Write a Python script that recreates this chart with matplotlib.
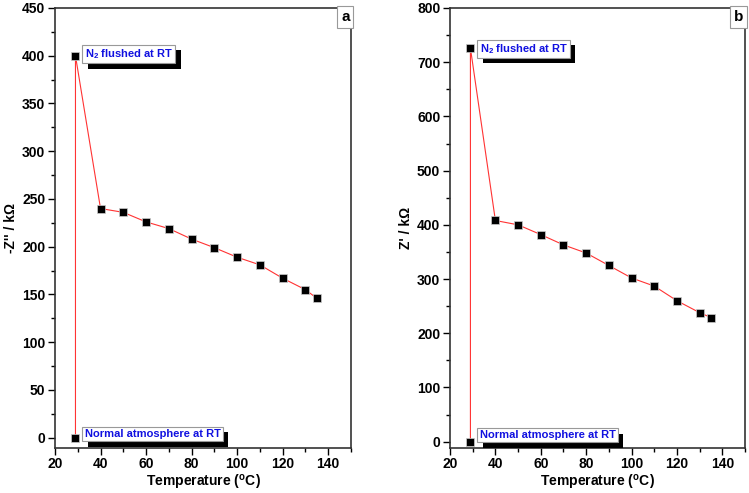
import matplotlib
matplotlib.use("Agg")
import matplotlib.pyplot as plt
from matplotlib.ticker import MultipleLocator
import matplotlib.patheffects as pe

plt.rcParams['font.family'] = ['Liberation Sans', 'DejaVu Sans']
plt.rcParams['font.weight'] = 'bold'
plt.rcParams['mathtext.fontset'] = 'custom'
plt.rcParams['mathtext.bf'] = 'Liberation Sans:bold'
plt.rcParams['mathtext.rm'] = 'Liberation Sans:bold'
plt.rcParams['mathtext.default'] = 'bf'

temp = [29, 29, 40, 50, 60, 70, 80, 90, 100, 110, 120, 130, 135]
z_imag = [0, 400, 240, 236, 226, 219, 208, 199, 189, 181, 167, 155, 146]
z_real = [0, 726, 408, 400, 382, 363, 348, 325, 302, 287, 260, 238, 229]


def shadow_box(ax, x, y, s):
    t = ax.text(x, y, s, color='#1010e0', fontsize=8, fontweight='bold', ha='left', va='center',
                bbox=dict(boxstyle='square,pad=0.2', fc='white', ec='#999999', lw=0.8), zorder=5)
    t.get_bbox_patch().set_path_effects([
        pe.SimplePatchShadow(offset=(4, -4), shadow_rgbFace='black', alpha=1.0),
        pe.Normal()])
    return t


def draw_panel(ax, y, ylim, major, ylabel, letter, n2_y, norm_y):
    ax.plot(temp, y, color='#ff3333', lw=0.8, zorder=2)
    ax.plot(temp, y, ls='none', marker='s', ms=6, mfc='black', mec='#cccccc', mew=0.5, zorder=3)
    ax.set_xlim(20, 150)
    ax.set_ylim(*ylim)
    ax.xaxis.set_major_locator(MultipleLocator(20))
    ax.xaxis.set_minor_locator(MultipleLocator(10))
    ax.yaxis.set_major_locator(MultipleLocator(major))
    ax.yaxis.set_minor_locator(MultipleLocator(major / 2))
    ax.tick_params(which='major', direction='out', length=5, width=1, labelsize=10, pad=2)
    ax.tick_params(which='minor', direction='out', length=3, width=1)
    for lab in ax.get_xticklabels() + ax.get_yticklabels():
        lab.set_fontweight('bold')
    for sp in ax.spines.values():
        sp.set_linewidth(1.2)
        sp.set_color('#333333')
    ax.set_xlabel('Temperature ($^\\mathregular{o}$C)', fontsize=10, fontweight='bold', labelpad=1)
    ax.set_ylabel(ylabel, fontsize=10, fontweight='bold', labelpad=3)
    ax.text(0.995, 0.995, letter, transform=ax.transAxes, ha='right', va='top', fontsize=11,
            fontweight='bold', bbox=dict(boxstyle='square,pad=0.25', fc='white', ec='#999999', lw=0.8))
    shadow_box(ax, 33, n2_y, 'N$_\\mathregular{2}$ flushed at RT')
    shadow_box(ax, 33, norm_y, 'Normal atmosphere at RT')


fig = plt.figure(figsize=(7.49, 4.93), dpi=100)
ax1 = fig.add_axes([0.0734, 0.092, 0.3952, 0.8918])
ax2 = fig.add_axes([0.6008, 0.092, 0.3939, 0.8918])

draw_panel(ax1, z_imag, (-10.4, 450), 50, "-Z'' / k\u03a9", 'a', 402, 4)
draw_panel(ax2, z_real, (-11, 800), 100, "Z' / k\u03a9", 'b', 725, 12)

fig.savefig('out.png', dpi=100)
